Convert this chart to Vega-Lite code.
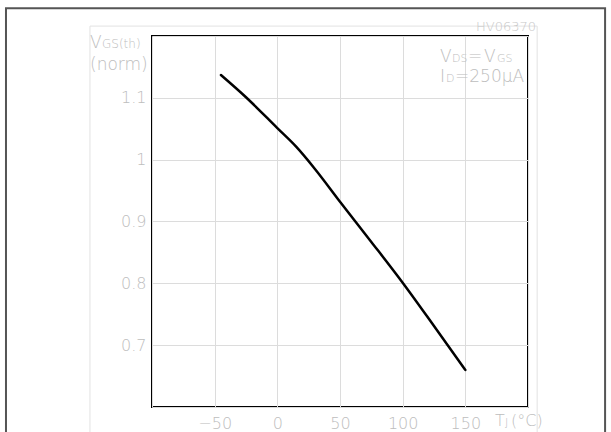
{
  "$schema": "https://vega.github.io/schema/vega-lite/v6.json",
  "width": 376,
  "height": 371,
  "autosize": {"type": "none"},
  "padding": {"left": 152, "top": 36, "right": 83, "bottom": 25},
  "background": "#ffffff",
  "config": {
    "view": {"stroke": "#000000", "strokeWidth": 2},
    "font": "DejaVu Sans",
    "text": {"font": "DejaVu Sans", "fontWeight": 200, "color": "#bdbdbd"},
    "axis": {
      "domain": false,
      "ticks": false,
      "gridColor": "#dcdcdc",
      "gridWidth": 1,
      "labelColor": "#bdbdbd",
      "labelFont": "DejaVu Sans",
      "labelFontWeight": 200,
      "labelFontSize": 16,
      "title": null
    }
  },
  "layer": [
    {
      "data": {
        "values": [
          {"tj": -45, "vgs": 1.137},
          {"tj": -25, "vgs": 1.101},
          {"tj": 0, "vgs": 1.051},
          {"tj": 15, "vgs": 1.021},
          {"tj": 30, "vgs": 0.985},
          {"tj": 50, "vgs": 0.932},
          {"tj": 75, "vgs": 0.867},
          {"tj": 100, "vgs": 0.801},
          {"tj": 125, "vgs": 0.731},
          {"tj": 150, "vgs": 0.66}
        ]
      },
      "mark": {"type": "line", "color": "#000000", "strokeWidth": 2.5, "interpolate": "monotone", "strokeCap": "round"},
      "encoding": {
        "x": {
          "field": "tj",
          "type": "quantitative",
          "scale": {"domain": [-100, 200], "nice": false, "zero": false},
          "axis": {
            "values": [-100, -75, -50, -25, 0, 25, 50, 75, 100, 125, 150, 175, 200],
            "labelExpr": "indexof([-50, 0, 50, 100, 150], datum.value) >= 0 ? datum.label : ''",
            "labelPadding": 8,
            "labelFlush": false,
            "labelOverlap": false
          }
        },
        "y": {
          "field": "vgs",
          "type": "quantitative",
          "scale": {"domain": [0.6, 1.2], "nice": false, "zero": false},
          "axis": {
            "values": [0.6, 0.65, 0.7, 0.75, 0.8, 0.85, 0.9, 0.95, 1, 1.05, 1.1, 1.15, 1.2],
            "format": "~g",
            "labelExpr": "indexof([0.7, 0.8, 0.9, 1, 1.1], datum.value) >= 0 ? datum.label : ''",
            "labelPadding": 6,
            "labelFlush": false,
            "labelOverlap": false
          }
        }
      }
    },
    {
      "data": {"values": [{}]},
      "layer": [
        {
          "mark": {"type": "rect", "fill": null, "stroke": "#555555", "strokeWidth": 2, "clip": false},
          "encoding": {"x": {"datum": -216.5}, "x2": {"datum": 261.5}, "y": {"datum": 1.245}, "y2": {"datum": 0.5}}
        },
        {
          "mark": {"type": "rect", "fill": null, "stroke": "#e2e2e2", "strokeWidth": 1, "clip": false},
          "encoding": {"x": {"datum": -149.5}, "x2": {"datum": 207.3}, "y": {"datum": 1.216}, "y2": {"datum": 0.5}}
        },
        {
          "mark": {"type": "text", "text": "HV06370", "align": "right", "baseline": "alphabetic", "dx": 8, "dy": -5, "fontSize": 13, "color": "#c8c8c8"},
          "encoding": {"x": {"datum": 200}, "y": {"datum": 1.2}}
        },
        {
          "mark": {"type": "text", "text": "V", "align": "left", "baseline": "alphabetic", "dx": -62, "dy": 12, "fontSize": 17},
          "encoding": {"x": {"datum": -100}, "y": {"datum": 1.2}}
        },
        {
          "mark": {"type": "text", "text": "GS(th)", "align": "left", "baseline": "alphabetic", "dx": -50, "dy": 12, "fontSize": 12},
          "encoding": {"x": {"datum": -100}, "y": {"datum": 1.2}}
        },
        {
          "mark": {"type": "text", "text": "(norm)", "align": "left", "baseline": "alphabetic", "dx": -62, "dy": 34, "fontSize": 17},
          "encoding": {"x": {"datum": -100}, "y": {"datum": 1.2}}
        },
        {
          "mark": {"type": "text", "text": "V", "align": "left", "baseline": "alphabetic", "dx": -88, "dy": 26, "fontSize": 17},
          "encoding": {"x": {"datum": 200}, "y": {"datum": 1.2}}
        },
        {
          "mark": {"type": "text", "text": "DS", "align": "left", "baseline": "alphabetic", "dx": -76, "dy": 26, "fontSize": 11},
          "encoding": {"x": {"datum": 200}, "y": {"datum": 1.2}}
        },
        {
          "mark": {"type": "text", "text": "=", "align": "left", "baseline": "alphabetic", "dx": -60, "dy": 26, "fontSize": 17},
          "encoding": {"x": {"datum": 200}, "y": {"datum": 1.2}}
        },
        {
          "mark": {"type": "text", "text": "V", "align": "left", "baseline": "alphabetic", "dx": -44, "dy": 26, "fontSize": 17},
          "encoding": {"x": {"datum": 200}, "y": {"datum": 1.2}}
        },
        {
          "mark": {"type": "text", "text": "GS", "align": "left", "baseline": "alphabetic", "dx": -31, "dy": 26, "fontSize": 11},
          "encoding": {"x": {"datum": 200}, "y": {"datum": 1.2}}
        },
        {
          "mark": {"type": "text", "text": "I", "align": "left", "baseline": "alphabetic", "dx": -88, "dy": 46, "fontSize": 17},
          "encoding": {"x": {"datum": 200}, "y": {"datum": 1.2}}
        },
        {
          "mark": {"type": "text", "text": "D", "align": "left", "baseline": "alphabetic", "dx": -82, "dy": 46, "fontSize": 11},
          "encoding": {"x": {"datum": 200}, "y": {"datum": 1.2}}
        },
        {
          "mark": {"type": "text", "text": "=250μA", "align": "left", "baseline": "alphabetic", "dx": -73, "dy": 46, "fontSize": 17},
          "encoding": {"x": {"datum": 200}, "y": {"datum": 1.2}}
        },
        {
          "mark": {"type": "text", "text": "T", "align": "left", "baseline": "alphabetic", "dx": -33, "dy": 19, "fontSize": 16},
          "encoding": {"x": {"datum": 200}, "y": {"datum": 0.6}}
        },
        {
          "mark": {"type": "text", "text": "J", "align": "left", "baseline": "alphabetic", "dx": -23, "dy": 19, "fontSize": 11},
          "encoding": {"x": {"datum": 200}, "y": {"datum": 0.6}}
        },
        {
          "mark": {"type": "text", "text": "(°C)", "align": "left", "baseline": "alphabetic", "dx": -17, "dy": 19, "fontSize": 16},
          "encoding": {"x": {"datum": 200}, "y": {"datum": 0.6}}
        }
      ]
    }
  ]
}
